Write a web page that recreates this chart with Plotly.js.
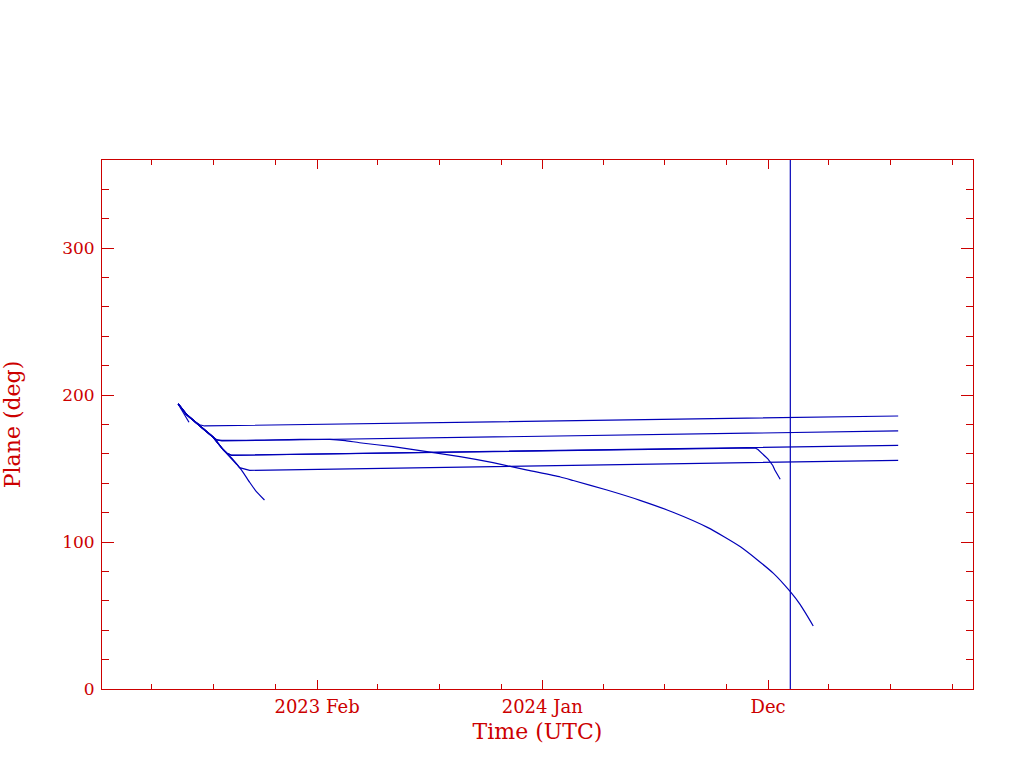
<!DOCTYPE html>
<html>
<head>
<meta charset="utf-8">
<script src="https://cdn.plot.ly/plotly-3.0.1.min.js"></script>
<style>html,body{margin:0;padding:0;background:#fff;}#chart{width:1024px;height:768px;}</style>
</head>
<body>
<div id="chart"></div>
<script>
// ---- data ----
const diagDates = ["2022-07-10","2022-07-22","2022-08-04","2022-08-15","2022-08-31","2022-09-14","2022-09-30","2022-10-12","2022-10-24","2022-11-03","2022-11-15"];
const diagVals  = [194, 187.0, 181.9, 177.4, 171.3, 163.3, 155.8, 149.0, 140.7, 134.3, 128.6];

const hookDates = ["2022-07-10","2022-07-17","2022-07-22","2022-07-26"];
const hookVals  = [194, 188.7, 185.3, 181.5];

const plane1Dates = ["2022-07-10","2022-07-22","2022-08-04","2022-08-11","2022-08-18","2025-06-12"];
const plane1Vals  = [194, 187.0, 181.9, 179.8, 179.0, 185.8];

const plane2Dates = ["2022-07-10","2022-07-22","2022-08-04","2022-08-15","2022-08-31","2022-09-05","2022-09-13","2025-06-12"];
const plane2Vals  = [194, 187.0, 181.9, 177.4, 171.3, 169.5, 168.8, 175.6];

const plane3Dates = ["2022-07-10","2022-07-22","2022-08-04","2022-08-15","2022-08-31","2022-09-14","2022-09-20","2022-09-27","2025-06-12"];
const plane3Vals  = [194, 187.0, 181.9, 177.4, 171.3, 163.3, 160.6, 159.0, 165.8];

const plane4Dates = ["2022-07-10","2022-07-22","2022-08-04","2022-08-15","2022-08-31","2022-09-14","2022-09-30","2022-10-05","2022-10-09","2022-10-17","2022-10-24","2025-06-12"];
const plane4Vals  = [194, 187.0, 181.9, 177.4, 171.3, 163.3, 155.8, 152.8, 150.6, 149.7, 148.8, 155.6];

const decayDates = ["2022-07-10","2022-07-22","2022-08-04","2022-08-15","2022-08-31","2022-09-05","2022-09-13","2023-01-07","2023-02-20","2023-03-15","2023-04-05","2023-05-25","2023-07-14","2023-09-01","2023-10-20","2023-12-10","2024-01-28","2024-02-16","2024-04-06","2024-05-25","2024-07-13","2024-09-02","2024-10-21","2024-12-09","2025-01-03","2025-01-18","2025-02-06"];
const decayVals  = [194, 187.0, 181.9, 177.4, 171.3, 169.7, 169.2, 169.9, 169.9, 169.0, 167.6, 164.9, 161.5, 158.1, 154.0, 149.0, 144.3, 141.9, 135.4, 128.4, 120.3, 110.0, 96.8, 78.7, 66.2, 57.2, 42.9];

const lateDates = ["2022-07-10","2022-07-22","2022-08-04","2022-08-15","2022-08-31","2022-09-14","2022-09-20","2022-09-27","2024-11-08","2024-11-12","2024-11-16","2024-11-19","2024-11-23","2024-11-27","2024-12-01","2024-12-04","2024-12-08","2024-12-11","2024-12-15","2024-12-19"];
const lateVals  = [194, 187.0, 181.9, 177.4, 171.3, 163.3, 160.6, 159.1, 164.2, 164.0, 163.0, 161.5, 160.0, 158.2, 156.5, 154.7, 152.1, 149.0, 146.0, 142.7];

const markerDate = "2025-01-03";
const markerSpan = [0, 360];

const xRange = ["2022-03-19", "2025-10-01"];
const xTickVals = ["2023-02-01", "2024-01-01", "2024-12-01"];
const xTickText = ["2023 Feb", "2024 Jan", "Dec"];
const xMinorVals = ["2022-06-01","2022-09-01","2022-12-01","2023-05-01","2023-08-01","2023-11-01","2024-04-01","2024-07-01","2024-10-01","2025-03-01","2025-06-01","2025-09-01"];
const yRange = [0, 360];
const yTickVals = [0, 100, 200, 300];
const yTickText = ["0", "100", "200", "300"];

// ---- styling ----
const LINE = "#0000b8";
const RED = "#cc0000";
const FONT = "DejaVu Serif, Liberation Serif, serif";

function tr(x, y, smooth) {
  const line = {color: LINE, width: 1.2};
  if (smooth) { line.shape = "spline"; line.smoothing = smooth; }
  return {x: x, y: y, type: "scatter", mode: "lines", line: line, hoverinfo: "skip", showlegend: false};
}

const traces = [
  tr(diagDates, diagVals, 0.5),
  tr(hookDates, hookVals, 0),
  tr(plane1Dates, plane1Vals, 0),
  tr(plane2Dates, plane2Vals, 0),
  tr(plane3Dates, plane3Vals, 0),
  tr(plane4Dates, plane4Vals, 0),
  tr(decayDates, decayVals, 0.6),
  tr(lateDates, lateVals, 0),
  tr([markerDate, markerDate], markerSpan, 0)
];

const layout = {
  width: 1024, height: 768,
  margin: {l: 102, r: 51, t: 160, b: 79, pad: 0},
  paper_bgcolor: "#ffffff", plot_bgcolor: "#ffffff",
  font: {family: FONT, color: RED, size: 17},
  showlegend: false,
  xaxis: {
    type: "date", range: xRange, autorange: false,
    showgrid: false, zeroline: false,
    showline: true, linecolor: RED, linewidth: 1, mirror: "ticks",
    ticks: "inside", ticklen: 9, tickwidth: 1, tickcolor: RED,
    tickmode: "array", tickvals: xTickVals, ticktext: xTickText,
    tickfont: {family: FONT, size: 18, color: RED},
    ticklabelstandoff: 1,
    minor: {tickmode: "array", tickvals: xMinorVals, ticks: "inside", ticklen: 5, tickwidth: 1, tickcolor: RED, showgrid: false},
    title: {text: "Time (UTC)", font: {family: FONT, size: 22, color: RED}, standoff: 8},
    automargin: false
  },
  yaxis: {
    range: yRange, autorange: false,
    showgrid: false, zeroline: false,
    showline: true, linecolor: RED, linewidth: 1, mirror: "ticks",
    ticks: "inside", ticklen: 12, tickwidth: 1, tickcolor: RED,
    tickmode: "array", tickvals: yTickVals, ticktext: yTickText,
    tickfont: {family: FONT, size: 17, color: RED},
    ticklabelstandoff: 3,
    minor: {dtick: 20, tick0: 0, ticks: "inside", ticklen: 7, tickwidth: 1, tickcolor: RED, showgrid: false},
    title: {text: "Plane (deg)", font: {family: FONT, size: 22, color: RED}, standoff: 40},
    automargin: false
  }
};

Plotly.newPlot("chart", traces, layout, {displayModeBar: false, staticPlot: true});
</script>
</body>
</html>
